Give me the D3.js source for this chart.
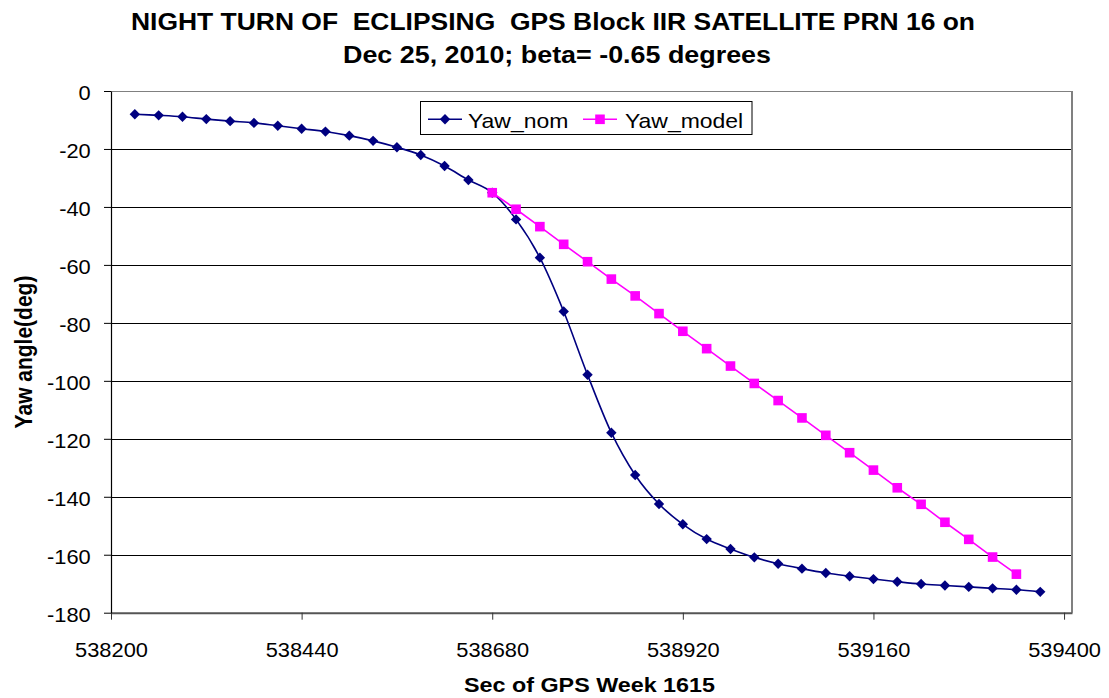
<!DOCTYPE html>
<html>
<head>
<meta charset="utf-8">
<script src="https://cdn.jsdelivr.net/npm/d3@7"></script>
<style>
  html, body { margin: 0; padding: 0; background: #fff; }
  svg { display: block; font-family: "Liberation Sans", Arial, sans-serif; }
  text { white-space: pre; }
</style>
</head>
<body>
<svg id="chart" width="1109" height="698"></svg>
<script>
const titleLines = ["NIGHT TURN OF  ECLIPSING  GPS Block IIR SATELLITE PRN 16 on", "Dec 25, 2010; beta= -0.65 degrees"];
const xTitle = "Sec of GPS Week 1615";
const yTitle = "Yaw angle(deg)";
const seriesNames = ["Yaw_nom", "Yaw_model"];

const xTicks = [538200, 538440, 538680, 538920, 539160, 539400];
const yTicks = [0, -20, -40, -60, -80, -100, -120, -140, -160, -180];

const secNom = [538230, 538260, 538290, 538320, 538350, 538380, 538410, 538440, 538470, 538500,
                538530, 538560, 538590, 538620, 538650, 538680, 538710, 538740, 538770, 538800,
                538830, 538860, 538890, 538920, 538950, 538980, 539010, 539040, 539070, 539100,
                539130, 539160, 539190, 539220, 539250, 539280, 539310, 539340, 539370];
const yawNom = [-8.0, -8.4, -8.9, -9.7, -10.4, -11.0, -12.0, -13.0, -14.0, -15.4,
                -17.2, -19.4, -22.1, -25.9, -30.7, -35.1, -44.3, -57.5, -76.1, -97.9,
                -117.9, -132.5, -142.5, -149.5, -154.6, -158.0, -160.9, -163.1, -164.8, -166.3,
                -167.4, -168.4, -169.3, -170.1, -170.6, -171.1, -171.6, -172.1, -172.8];

const secModel = [538680, 538710, 538740, 538770, 538800, 538830, 538860, 538890, 538920, 538950,
                  538980, 539010, 539040, 539070, 539100, 539130, 539160, 539190, 539220, 539250,
                  539280, 539310, 539340];
const yawModel = [-35.1, -40.8, -46.8, -52.9, -58.9, -64.9, -70.7, -76.8, -82.9, -88.9,
                  -94.9, -100.9, -106.8, -112.8, -118.8, -124.8, -130.8, -136.9, -142.6, -148.8,
                  -154.7, -160.8, -166.7];

const NAVY = "#000080", MAGENTA = "#FF00FF";
const SX = 1.12; // horizontal text stretch

const svg = d3.select("#chart");
svg.append("rect").attr("width", 1109).attr("height", 698).attr("fill", "#fff");

const L = 111, R = 1072, T = 91, B = 612.7;
const x = d3.scaleLinear().domain([538200, 539410]).range([L, R]);
const y = d3.scaleLinear().domain([-180, 0]).range([B, T]);

// gridlines
svg.append("g").selectAll("line").data(yTicks.filter(v => v !== -180 && v !== 0)).join("line")
  .attr("x1", L).attr("x2", R)
  .attr("y1", d => Math.round(y(d)) + 0.5).attr("y2", d => Math.round(y(d)) + 0.5)
  .attr("stroke", "#000").attr("stroke-width", 1);

// plot border top/right
svg.append("line").attr("x1", L).attr("x2", R).attr("y1", T + 0.5).attr("y2", T + 0.5)
  .attr("stroke", "#808080").attr("stroke-width", 1);
svg.append("line").attr("x1", R).attr("x2", R).attr("y1", T).attr("y2", B)
  .attr("stroke", "#808080").attr("stroke-width", 2);

// bottom axis
const gx = svg.append("g").attr("transform", `translate(0,${B})`)
  .call(d3.axisBottom(x).tickValues(xTicks).tickSize(7).tickSizeOuter(0).tickFormat(d => String(d)));
gx.select(".domain").attr("stroke", "#555").attr("stroke-width", 2);
gx.selectAll(".tick line").attr("stroke", "#333");
gx.selectAll(".tick text").attr("y", 44).attr("dy", 0)
  .attr("font-size", 19.5).attr("fill", "#000")
  .attr("font-family", "Liberation Sans, Arial, sans-serif")
  .attr("transform", `scale(${SX},1)`);

// left axis
const gy = svg.append("g").attr("transform", `translate(${L},0)`)
  .call(d3.axisLeft(y).tickValues(yTicks).tickSize(7).tickSizeOuter(0).tickFormat(d => String(d)));
gy.select(".domain").attr("stroke", "#000").attr("stroke-width", 1.2);
gy.selectAll(".tick line").attr("stroke", "#000");
gy.selectAll(".tick text").attr("x", -20.3 / SX).attr("dy", 0).attr("y", 8.3)
  .attr("font-size", 19.5).attr("fill", "#000")
  .attr("font-family", "Liberation Sans, Arial, sans-serif")
  .attr("transform", `scale(${SX},1)`);

// series
const nomData = secNom.map((s, i) => [s, yawNom[i]]);
const modelData = secModel.map((s, i) => [s, yawModel[i]]);

svg.append("path").datum(nomData)
  .attr("d", d3.line().x(d => x(d[0])).y(d => y(d[1])).curve(d3.curveCardinal.tension(0)))
  .attr("fill", "none").attr("stroke", NAVY).attr("stroke-width", 1.6);

const diamond = "M0,-5.2L5.2,0L0,5.2L-5.2,0Z";
svg.append("g").selectAll("path").data(nomData).join("path")
  .attr("transform", d => `translate(${x(d[0])},${y(d[1])})`)
  .attr("d", diamond).attr("fill", NAVY);

svg.append("path").datum(modelData)
  .attr("d", d3.line().x(d => x(d[0])).y(d => y(d[1])))
  .attr("fill", "none").attr("stroke", MAGENTA).attr("stroke-width", 1.6);

svg.append("g").selectAll("rect").data(modelData).join("rect")
  .attr("x", d => x(d[0]) - 4.8).attr("y", d => y(d[1]) - 4.8)
  .attr("width", 9.6).attr("height", 9.6).attr("fill", MAGENTA);

// legend
const lg = svg.append("g");
lg.append("rect").attr("x", 420.5).attr("y", 101.5).attr("width", 331.5).attr("height", 33)
  .attr("fill", "#fff").attr("stroke", "#000").attr("stroke-width", 1);
const ly = 119.3;
lg.append("line").attr("x1", 428).attr("x2", 462).attr("y1", ly).attr("y2", ly)
  .attr("stroke", NAVY).attr("stroke-width", 1.6);
lg.append("path").attr("d", diamond).attr("transform", `translate(445,${ly})`).attr("fill", NAVY);
lg.append("text").attr("transform", `translate(468,127.5) scale(${SX},1)`)
  .attr("font-size", 20.5).text(seriesNames[0]);
lg.append("line").attr("x1", 583).attr("x2", 617).attr("y1", ly).attr("y2", ly)
  .attr("stroke", MAGENTA).attr("stroke-width", 1.6);
lg.append("rect").attr("x", 600 - 4.8).attr("y", ly - 4.8).attr("width", 9.6).attr("height", 9.6)
  .attr("fill", MAGENTA);
lg.append("text").attr("transform", `translate(625,127.5) scale(${SX},1)`)
  .attr("font-size", 20.5).text(seriesNames[1]);

// titles
svg.append("text").attr("x", 553).attr("y", 30).attr("text-anchor", "middle")
  .attr("xml:space", "preserve")
  .attr("font-size", 24).attr("font-weight", "bold")
  .attr("textLength", 844).attr("lengthAdjust", "spacingAndGlyphs").text(titleLines[0]);
svg.append("text").attr("x", 557).attr("y", 63).attr("text-anchor", "middle")
  .attr("font-size", 24).attr("font-weight", "bold")
  .attr("textLength", 428).attr("lengthAdjust", "spacingAndGlyphs").text(titleLines[1]);

svg.append("text").attr("x", 589.5).attr("y", 692).attr("text-anchor", "middle")
  .attr("font-size", 21).attr("font-weight", "bold")
  .attr("textLength", 251).attr("lengthAdjust", "spacingAndGlyphs").text(xTitle);

svg.append("text").attr("transform", `translate(32,352) scale(${SX},1) rotate(-90)`)
  .attr("text-anchor", "middle").attr("font-size", 21).attr("font-weight", "bold")
  .text(yTitle);
</script>
</body>
</html>
